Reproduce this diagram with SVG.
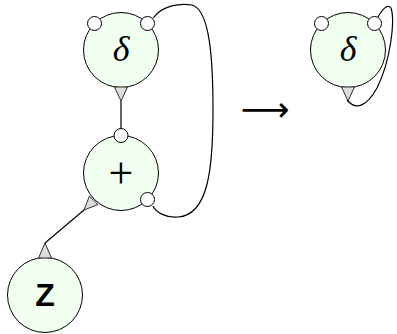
<svg xmlns="http://www.w3.org/2000/svg" width="397" height="334" viewBox="0 0 397 334">
  <style>
    .agent { fill: #f0fff0; stroke: #000; stroke-width: 1; }
    .port { fill: #fff; stroke: #000; stroke-width: 1; }
    .principal { fill: #dcdcdc; stroke: #000; stroke-width: 0.8; }
    .wire { fill: none; stroke: #000; stroke-width: 1.2; }
    .sym { font-family: "Liberation Serif", serif; font-size: 36px; text-anchor: middle; }
    .it { font-style: italic; }
    .op { font-size: 44px; }
    .sans { font-family: "Liberation Sans", sans-serif; font-size: 32px; font-weight: bold; text-anchor: middle; }
  </style>
  <rect width="397" height="334" fill="#fff"/>

  <g id="connectors">
    <!-- delta principal to plus top port -->
    <line class="wire" x1="121" y1="101" x2="121" y2="128"/>
    <!-- delta aux port loops round to plus aux port -->
    <path class="wire" d="M153,18 C163,5 180,3 192,5 C210,10 213,60 213,110 C213,170 208,215 178,217 C165,218 156,212 153,206"/>
    <!-- plus principal to Z -->
    <line class="wire" x1="84" y1="210" x2="45" y2="243"/>
    <!-- self loop on reduced delta -->
    <path class="wire" d="M378,17 C383,8 388,4 391,8 C395,20 391,60 377,88 C367,106 356,111 347,100"/>
  </g>

  <g id="delta">
    <circle class="agent" cx="121" cy="50" r="37.5"/>
    <polygon class="principal" points="114.5,87 127.5,87 121,101"/>
    <circle class="port" cx="94.5" cy="23.5" r="7"/>
    <circle class="port" cx="147.5" cy="23.5" r="7"/>
    <text class="sym it" x="121" y="61">δ</text>
  </g>

  <g id="plus">
    <circle class="agent" cx="121" cy="173" r="37.5"/>
    <polygon class="principal" points="89.4,196 98,204.6 84,210"/>
    <circle class="port" cx="121" cy="135.5" r="7"/>
    <circle class="port" cx="147.5" cy="199.5" r="7"/>
    <text class="sym op" x="121" y="188">+</text>
  </g>

  <g id="z">
    <circle class="agent" cx="45" cy="295" r="37.5"/>
    <polygon class="principal" points="38.5,258 51.5,258 45,243"/>
    <text class="sans" x="45" y="306">Z</text>
  </g>

  <g id="arrow">
    <text x="265" y="121" font-family="DejaVu Sans, sans-serif" font-size="34" text-anchor="middle">⟶</text>
  </g>

  <g id="delta-reduced">
    <circle class="agent" cx="348" cy="50" r="37.5"/>
    <polygon class="principal" points="341.5,87 354.5,87 348,101"/>
    <circle class="port" cx="321.5" cy="23.5" r="7"/>
    <circle class="port" cx="374.5" cy="23.5" r="7"/>
    <text class="sym it" x="348" y="61">δ</text>
  </g>
</svg>
